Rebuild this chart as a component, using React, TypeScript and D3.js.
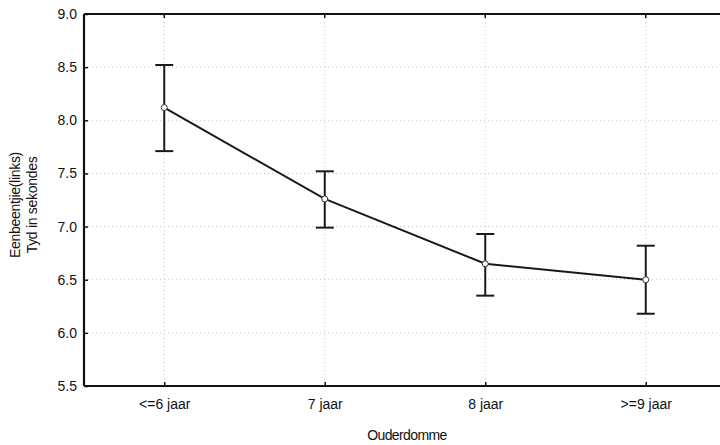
import * as d3 from "d3";
import React, { useEffect, useRef } from "react";

// categories and means with error-bar limits
const categories = ["<=6 jaar", "7 jaar", "8 jaar", ">=9 jaar"];
const means = [8.12, 7.26, 6.65, 6.5];
const upper = [8.52, 7.52, 6.93, 6.82];
const lower = [7.71, 6.99, 6.35, 6.18];
const yTicks = [5.5, 6.0, 6.5, 7.0, 7.5, 8.0, 8.5, 9.0];

const W = 720;
const H = 445;
const margin = { top: 14, right: -6, bottom: 59, left: 84 };

const App = () => {
  const svgRef = useRef<SVGSVGElement>(null);

  useEffect(() => {
    const svgEl = d3.select(svgRef.current);
    svgEl.selectAll("*").remove();

    const width = W - margin.left - margin.right;
    const height = H - margin.top - margin.bottom;
    const font = "'Liberation Sans', Arial, sans-serif";

    const x = d3.scalePoint<string>().domain(categories).range([0, width]).padding(0.5);
    const y = d3.scaleLinear().domain([5.5, 9.0]).range([height, 0]);

    svgEl.append("rect").attr("width", W).attr("height", H).attr("fill", "#fff");

    const g = svgEl.append("g").attr("transform", `translate(${margin.left},${margin.top})`);

    // dotted grid
    g.selectAll(".hgrid")
      .data(yTicks.slice(1, -1))
      .enter()
      .append("line")
      .attr("x1", 0)
      .attr("x2", width)
      .attr("y1", d => y(d))
      .attr("y2", d => y(d))
      .attr("stroke", "#c4c4c4")
      .attr("stroke-width", 1)
      .attr("stroke-dasharray", "1,3");

    g.selectAll(".vgrid")
      .data(categories)
      .enter()
      .append("line")
      .attr("x1", d => x(d)!)
      .attr("x2", d => x(d)!)
      .attr("y1", 0)
      .attr("y2", height)
      .attr("stroke", "#c4c4c4")
      .attr("stroke-width", 1)
      .attr("stroke-dasharray", "1,3");

    // y axis (ticks inward)
    const yAxis = g.append("g")
      .call(d3.axisLeft(y).tickValues(yTicks).tickFormat(d3.format(".1f")).tickSize(-4).tickPadding(7));
    yAxis.select(".domain").remove();
    yAxis.selectAll("line").attr("stroke", "#111").attr("stroke-width", 1.5);
    yAxis.selectAll("text").attr("font-family", font).attr("font-size", 14).attr("fill", "#111");

    // x axis (ticks inward)
    const xAxis = g.append("g")
      .attr("transform", `translate(0,${height})`)
      .call(d3.axisBottom(x).tickSize(-4).tickPadding(13));
    xAxis.select(".domain").remove();
    xAxis.selectAll("line").attr("stroke", "#111").attr("stroke-width", 1.5);
    xAxis.selectAll("text").attr("font-family", font).attr("font-size", 14).attr("fill", "#111");

    // top ticks
    g.selectAll(".ttick")
      .data(categories)
      .enter()
      .append("line")
      .attr("x1", d => x(d)!)
      .attr("x2", d => x(d)!)
      .attr("y1", 0)
      .attr("y2", 4)
      .attr("stroke", "#111")
      .attr("stroke-width", 1.5);

    // frame
    g.append("line").attr("x1", 0).attr("x2", width).attr("y1", 0).attr("y2", 0).attr("stroke", "#111").attr("stroke-width", 2.2);
    g.append("line").attr("x1", 0).attr("x2", width).attr("y1", height).attr("y2", height).attr("stroke", "#111").attr("stroke-width", 2.2);
    g.append("line").attr("x1", 0).attr("x2", 0).attr("y1", 0).attr("y2", height).attr("stroke", "#111").attr("stroke-width", 2.2);

    // error bars
    const cap = 9;
    const bars = g.selectAll(".err").data(categories).enter().append("g");
    bars.append("line")
      .attr("x1", d => x(d)!).attr("x2", d => x(d)!)
      .attr("y1", (d, i) => y(upper[i])).attr("y2", (d, i) => y(lower[i]))
      .attr("stroke", "#1a1a1a").attr("stroke-width", 2);
    bars.append("line")
      .attr("x1", d => x(d)! - cap).attr("x2", d => x(d)! + cap)
      .attr("y1", (d, i) => y(upper[i])).attr("y2", (d, i) => y(upper[i]))
      .attr("stroke", "#1a1a1a").attr("stroke-width", 2);
    bars.append("line")
      .attr("x1", d => x(d)! - cap).attr("x2", d => x(d)! + cap)
      .attr("y1", (d, i) => y(lower[i])).attr("y2", (d, i) => y(lower[i]))
      .attr("stroke", "#1a1a1a").attr("stroke-width", 2);

    // mean line
    const line = d3.line<number>()
      .x((d, i) => x(categories[i])!)
      .y(d => y(d));
    g.append("path")
      .attr("d", line(means))
      .attr("fill", "none")
      .attr("stroke", "#1a1a1a")
      .attr("stroke-width", 2);

    g.selectAll(".pt")
      .data(means)
      .enter()
      .append("circle")
      .attr("cx", (d, i) => x(categories[i])!)
      .attr("cy", d => y(d))
      .attr("r", 3)
      .attr("fill", "#fff")
      .attr("stroke", "#333")
      .attr("stroke-width", 1);

    // axis titles
    svgEl.append("text")
      .attr("x", 407)
      .attr("y", 440)
      .attr("text-anchor", "middle")
      .attr("font-family", font)
      .attr("font-size", 14)
      .attr("letter-spacing", -0.6)
      .attr("fill", "#111")
      .text("Ouderdomme");

    const yl = svgEl.append("text")
      .attr("transform", "translate(20,205) rotate(-90)")
      .attr("text-anchor", "middle")
      .attr("font-family", font)
      .attr("font-size", 14)
      .attr("letter-spacing", -0.3)
      .attr("fill", "#111");
    yl.append("tspan").attr("x", 0).attr("dy", 0).text("Eenbeentjie(links)");
    yl.append("tspan").attr("x", 0).attr("dy", 17).text("Tyd in sekondes");
  }, []);

  return (
    <svg
      ref={svgRef}
      width={W}
      height={H}
      style={{ position: "absolute", left: 0, top: 0 }}
    />
  );
};

export default App;
